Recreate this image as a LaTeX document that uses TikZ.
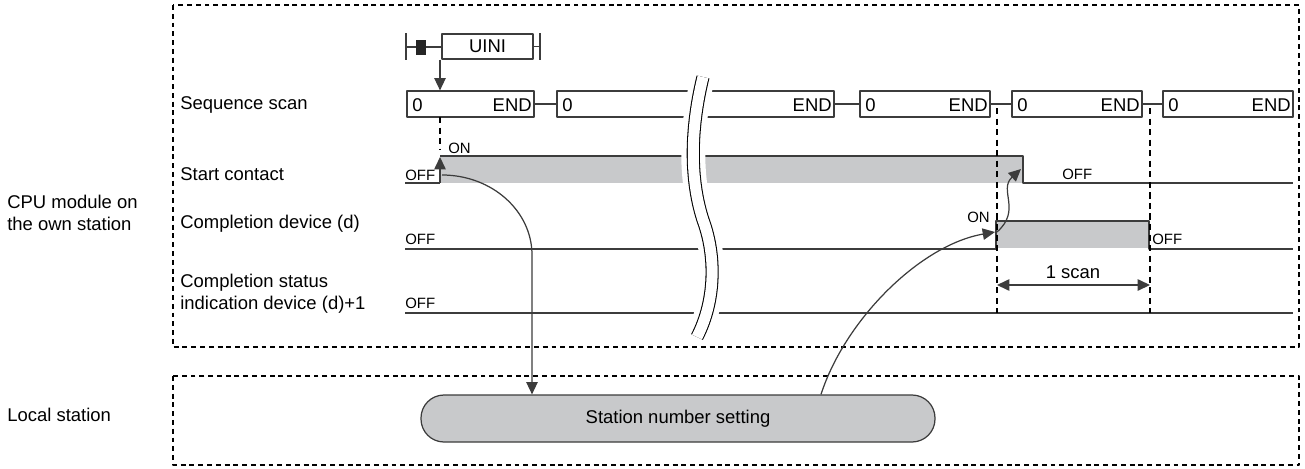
\documentclass[tikz,border=0pt]{standalone}
\usepackage{fontspec}
\setmainfont{Liberation Sans}
\usepackage{xcolor}
\usetikzlibrary{arrows.meta}
\definecolor{bandgray}{RGB}{200,201,203}
\definecolor{linegray}{RGB}{60,60,60}
\tikzset{
  every picture/.style={font=\fontsize{10.5}{12.6}\selectfont, line join=round, >={Triangle[length=7pt,width=6.5pt]}},
  every node/.style={inner sep=0pt},
  sig/.style={line width=0.7pt, draw=linegray},
  zone/.style={line width=0.6pt, dash pattern=on 2.8pt off 2.2pt},
  guide/.style={line width=0.6pt, dash pattern=on 3.5pt off 2.5pt},
  lvl/.style={font=\fontsize{8.5}{10}\selectfont},
}

\begin{document}
\begin{tikzpicture}[x=0.2mm, y=-0.2mm]
\useasboundingbox (0,0) rectangle (1305,468);
% frames
\draw[zone] (173,5) rectangle (1299,347);
\draw[zone] (173,376) rectangle (1299,465);
\node[anchor=base west] (cpuA) at (7,208) {CPU module on};
\node[anchor=base west] (cpuB) at (7,230) {the own station};
\node[anchor=base west] (local) at (7,421) {Local station};
% row names
\node[anchor=base west] (rowScan) at (180,109) {Sequence scan};
\node[anchor=base west] (rowStart) at (180,180) {Start contact};
\node[anchor=base west] (rowDone) at (180,228) {Completion device (d)};
\node[anchor=base west] (rowStatA) at (180,287) {Completion status};
\node[anchor=base west] (rowStatB) at (180,309) {indication device (d)+1};
% UINI instruction
\draw[sig] (406,33) -- (406,60);
\draw[sig] (406,47) -- (442,47);
\fill[black!85] (416,40) rectangle (426,55);
\node[draw=linegray, line width=0.7pt, minimum width=18.2mm, minimum height=5mm] (uini) at (487.5,46.5) {UINI};
\draw[sig] (uini.east) -- (540,46.5);
\draw[sig] (540,33) -- (540,60);
% sequence scan
\node[draw=linegray, line width=0.7pt, minimum width=25.4mm, minimum height=5.2mm] (scan1) at (470.5,104) {};
\draw[sig] (scan1.east) -- (557,104);
\draw[sig] (834,104) -- (860,104);
\draw[sig] (990,104) -- (1012,104);
\draw[sig] (1142,104) -- (1163,104);
\draw[sig] (557,91) rectangle (834,117);
\foreach \l/\r in {860/990, 1012/1142, 1163/1293}
  \draw[sig] (\l,91) rectangle (\r,117);
\foreach \l/\r in {407/534, 557/834, 860/990, 1012/1142, 1163/1293} {
  \node[anchor=base west] at (\l+5,111) {0};
  \node[anchor=base east] at (\r-2,111) {END};
}
\coordinate (trig) at (440,104);
\draw[sig,->] (uini.south -| trig) -- (scan1.north -| trig);
% start contact
\fill[bandgray] (440,156) rectangle (1023,183);
\draw[sig] (405,183) -- (440,183);
\draw[sig,->] (440,183) -- (440,157);
\draw[sig] (440,156) -- (1023,156) -- (1023,183) -- (1293,183);
\node[lvl, anchor=base west] (offStartA) at (405,180) {OFF};
\node[lvl, anchor=base west] (onStart) at (448,153) {ON};
\node[lvl, anchor=base west] (offStartB) at (1062,179) {OFF};
% completion device
\fill[bandgray] (996,221) rectangle (1149,248);
\draw[sig] (405,249) -- (996,249) -- (996,221) -- (1149,221) -- (1149,249) -- (1293,249);
\node[lvl, anchor=base west] (offDoneA) at (405,244) {OFF};
\node[lvl, anchor=base east] (onDone) at (990,222) {ON};
\node[lvl, anchor=base west] (offDoneB) at (1152,244) {OFF};
% completion status
\draw[sig] (405,313) -- (1293,313);
\node[lvl, anchor=base west] (offStat) at (405,308) {OFF};
% guides
\draw[guide] (440,117) -- (440,150);
\draw[guide] (997,108) -- (997,313);
\draw[guide] (1150,108) -- (1150,313);
\coordinate (scanA) at (997,285);
\coordinate (scanB) at (1150,285);
\draw[sig,<->] (scanA) -- (scanB);
\node[anchor=base] (oneScan) at (1073,278) {1 scan};
% break
\draw[line width=0.6pt, double=white, double distance=2.2mm, preaction={draw=white, line width=4.8mm}]
  (703,77) .. controls (690,130) and (690,180) .. (703,220)
  .. controls (716,255) and (716,300) .. (697,337);
% local station
\node[draw=linegray, line width=0.7pt, fill=bandgray, rounded corners=4.6mm, minimum width=102.8mm, minimum height=9.4mm] (stn) at (678,418.5) {Station number setting};
% request and completion
\coordinate (req) at (442,175);
\coordinate (reqDown) at (532,255);
\draw[sig,->] (req) .. controls (492,175) and (532,211) .. (reqDown) -- (reqDown |- stn.north);
\coordinate (fin) at (821,0);
\coordinate (doneRise) at (995,232);
\draw[sig,->] (fin |- stn.north) .. controls (845,320) and (920,245) .. (doneRise);
\coordinate (doneFoot) at (997,232);
\coordinate (startFall) at (1021,169);
\draw[sig,->] (doneFoot) .. controls (1022,210) and (998,190) .. (startFall);
\end{tikzpicture}
\end{document}
